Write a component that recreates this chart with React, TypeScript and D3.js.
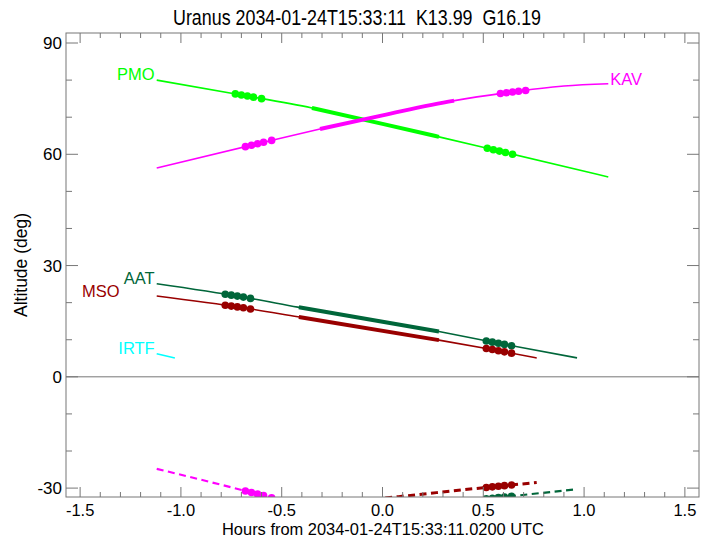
import React, { useEffect, useRef } from 'react';
import * as d3 from 'd3';

// chart text
const title = 'Uranus 2034-01-24T15:33:11  K13.99  G16.19';
const xTitle = 'Hours from 2034-01-24T15:33:11.0200 UTC';
const yTitle = 'Altitude (deg)';

// axis ticks
const xMajor = [-1.5, -1.0, -0.5, 0.0, 0.5, 1.0, 1.5];
const xMajorLabels = ['-1.5', '-1.0', '-0.5', '0.0', '0.5', '1.0', '1.5'];
const xMinor = [-1.4, -1.3, -1.2, -1.1, -0.9, -0.8, -0.7, -0.6, -0.4, -0.3, -0.2, -0.1,
  0.1, 0.2, 0.3, 0.4, 0.6, 0.7, 0.8, 0.9, 1.1, 1.2, 1.3, 1.4];
const yMajor = [-30, 0, 30, 60, 90];
const yMajorLabels = ['-30', '0', '30', '60', '90'];
const yMinor = [-20, -10, 10, 20, 40, 50, 70, 80];

// altitude tracks (hours from epoch, altitude in deg)
const pmoHours = [-1.12, -0.7, -0.35, 0, 0.28, 0.6, 1.12];
const pmoAlt = [80.0, 76.0, 72.5, 68.2, 64.7, 60.6, 53.9];
const pmoThick = [-0.35, 0.28];
const pmoDots = [-0.73, -0.70, -0.67, -0.64, -0.60, 0.52, 0.55, 0.58, 0.61, 0.645];

const kavHours = [-1.12, -0.6, -0.31, 0, 0.35, 0.6, 0.9, 1.12];
const kavAlt = [56.3, 63.1, 66.8, 70.5, 74.4, 76.5, 78.4, 79.0];
const kavThick = [-0.31, 0.355];
const kavDots = [-0.68, -0.65, -0.62, -0.59, -0.55, 0.585, 0.615, 0.645, 0.675, 0.71];

const aatHours = [-1.12, -0.7, -0.42, 0.28, 0.55, 0.965];
const aatAlt = [25.1, 21.6, 18.8, 12.2, 9.3, 5.1];
const aatThick = [-0.415, 0.28];
const aatDots = [-0.78, -0.75, -0.72, -0.69, -0.655, 0.515, 0.545, 0.575, 0.605, 0.64];

const msoHours = [-1.12, -0.7, -0.42, 0.28, 0.55, 0.765];
const msoAlt = [21.8, 18.7, 16.2, 9.9, 7.3, 5.1];
const msoThick = [-0.415, 0.28];
const msoDots = [-0.78, -0.75, -0.72, -0.69, -0.655, 0.515, 0.545, 0.575, 0.605, 0.64];

const irtfHours = [-1.12, -1.03];
const irtfAlt = [6.2, 5.1];

// below-horizon tracks (dashed)
const kavLowHours = [-1.12, -0.8, -0.55, -0.4];
const kavLowAlt = [-24.8, -29.1, -32.6, -34.6];
const kavLowDots = [-0.68, -0.65, -0.62, -0.59, -0.55];

const msoLowHours = [-0.1, 0.08, 0.5, 0.765];
const msoLowAlt = [-33.3, -32.3, -29.9, -28.5];
const msoLowDots = [0.515, 0.545, 0.575, 0.605, 0.64];

const aatLowHours = [0.4, 0.5, 0.965];
const aatLowAlt = [-33.6, -33.0, -30.3];
const aatLowDots = [0.515, 0.545, 0.575, 0.605, 0.64];

const sites = [
  { name: 'PMO', color: '#00ff00', hours: pmoHours, alt: pmoAlt, thick: pmoThick, dots: pmoDots, label: { at: 'start', dx: -2, dy: 0 } },
  { name: 'KAV', color: '#ff00ff', hours: kavHours, alt: kavAlt, thick: kavThick, dots: kavDots, label: { at: 'end', dx: 2, dy: 1 } },
  { name: 'AAT', color: '#00663a', hours: aatHours, alt: aatAlt, thick: aatThick, dots: aatDots, label: { at: 'start', dx: -2, dy: 0 } },
  { name: 'MSO', color: '#990000', hours: msoHours, alt: msoAlt, thick: msoThick, dots: msoDots, label: { at: 'start', dx: -37, dy: 1 } },
  { name: 'IRTF', color: '#00ffff', hours: irtfHours, alt: irtfAlt, thick: null, dots: [], label: { at: 'start', dx: -2, dy: 0 } },
];

const lowTracks = [
  { color: '#ff00ff', hours: kavLowHours, alt: kavLowAlt, dots: kavLowDots, width: 2.2 },
  { color: '#990000', hours: msoLowHours, alt: msoLowAlt, dots: msoLowDots, width: 3 },
  { color: '#00663a', hours: aatLowHours, alt: aatLowAlt, dots: aatLowDots, width: 2.2 },
];

const App = () => {
  const ref = useRef<SVGSVGElement>(null);
  const width = 712, height = 542;
  const margin = { top: 33, right: 13, bottom: 45, left: 66 };

  useEffect(() => {
    const svg = d3.select(ref.current);
    svg.selectAll('*').remove();

    const left = margin.left, right = width - margin.right;
    const top = margin.top, bottom = height - margin.bottom;

    const x = d3.scaleLinear().domain([-1.57, 1.57]).range([left, right]);
    const y = d3.scaleLinear().domain([-32.4, 92.7]).range([bottom, top]);
    const font = '"Liberation Sans", Arial, Helvetica, sans-serif';
    const axisColor = '#777';

    svg.append('defs').append('clipPath').attr('id', 'plot-clip')
      .append('rect')
      .attr('x', left).attr('y', top)
      .attr('width', right - left).attr('height', bottom - top);

    // zero line
    svg.append('line')
      .attr('x1', left).attr('x2', right)
      .attr('y1', y(0)).attr('y2', y(0))
      .attr('stroke', axisColor).attr('stroke-width', 1);

    const plot = svg.append('g').attr('clip-path', 'url(#plot-clip)');
    const line = d3.line<number[]>()
      .x(d => x(d[0]))
      .y(d => y(d[1]))
      .curve(d3.curveMonotoneX);

    sites.forEach(s => {
      const pts = s.hours.map((h, i) => [h, s.alt[i]]);
      const altAt = d3.scaleLinear().domain(s.hours).range(s.alt);

      plot.append('path')
        .attr('d', line(pts))
        .attr('fill', 'none')
        .attr('stroke', s.color)
        .attr('stroke-width', 1.6);

      if (s.thick) {
        const [t0, t1] = s.thick;
        const seg = [[t0, altAt(t0)], ...pts.filter(p => p[0] > t0 && p[0] < t1), [t1, altAt(t1)]];
        plot.append('path')
          .attr('d', line(seg))
          .attr('fill', 'none')
          .attr('stroke', s.color)
          .attr('stroke-width', 4);
      }

      plot.selectAll(null)
        .data(s.dots)
        .enter()
        .append('circle')
        .attr('cx', d => x(d))
        .attr('cy', d => y(altAt(d)))
        .attr('r', 3.8)
        .attr('fill', s.color);

      const endIdx = s.label.at === 'start' ? 0 : s.hours.length - 1;
      svg.append('text')
        .attr('x', x(s.hours[endIdx]) + s.label.dx)
        .attr('y', y(s.alt[endIdx]) + s.label.dy)
        .attr('text-anchor', s.label.at === 'start' ? 'end' : 'start')
        .attr('font-family', font)
        .attr('font-size', 16.5)
        .attr('fill', s.color)
        .text(s.name);
    });

    lowTracks.forEach(s => {
      const pts = s.hours.map((h, i) => [h, s.alt[i]]);
      const altAt = d3.scaleLinear().domain(s.hours).range(s.alt);
      plot.append('path')
        .attr('d', line(pts))
        .attr('fill', 'none')
        .attr('stroke', s.color)
        .attr('stroke-width', s.width)
        .attr('stroke-dasharray', '7,4.5');
      plot.selectAll(null)
        .data(s.dots)
        .enter()
        .append('circle')
        .attr('cx', d => x(d))
        .attr('cy', d => y(altAt(d)))
        .attr('r', 3.8)
        .attr('fill', s.color);
    });

    // frame
    svg.append('rect')
      .attr('x', left).attr('y', top)
      .attr('width', right - left).attr('height', bottom - top)
      .attr('fill', 'none')
      .attr('stroke', axisColor).attr('stroke-width', 1);

    const ticks = svg.append('g').attr('stroke', axisColor).attr('stroke-width', 1);
    const xTick = (vals: number[], len: number) => {
      vals.forEach(v => {
        ticks.append('line').attr('x1', x(v)).attr('x2', x(v)).attr('y1', bottom).attr('y2', bottom - len);
        ticks.append('line').attr('x1', x(v)).attr('x2', x(v)).attr('y1', top).attr('y2', top + len);
      });
    };
    const yTick = (vals: number[], len: number) => {
      vals.forEach(v => {
        ticks.append('line').attr('x1', left).attr('x2', left + len).attr('y1', y(v)).attr('y2', y(v));
        ticks.append('line').attr('x1', right).attr('x2', right - len).attr('y1', y(v)).attr('y2', y(v));
      });
    };
    xTick(xMajor, 10);
    xTick(xMinor, 5);
    yTick(yMajor, 12);
    yTick(yMinor, 6);

    svg.append('g').selectAll('text')
      .data(xMajor)
      .enter()
      .append('text')
      .attr('x', d => x(d))
      .attr('y', bottom + 19)
      .attr('text-anchor', 'middle')
      .attr('font-family', font)
      .attr('font-size', 16.5)
      .text((d, i) => xMajorLabels[i]);

    svg.append('g').selectAll('text')
      .data(yMajor)
      .enter()
      .append('text')
      .attr('x', left - 4)
      .attr('y', d => y(d) + 6)
      .attr('text-anchor', 'end')
      .attr('font-family', font)
      .attr('font-size', 17)
      .text((d, i) => yMajorLabels[i]);

    svg.append('text')
      .attr('x', 357)
      .attr('y', 25)
      .attr('text-anchor', 'middle')
      .attr('font-family', font)
      .attr('font-size', 22)
      .attr('textLength', 368)
      .attr('lengthAdjust', 'spacingAndGlyphs')
      .style('white-space', 'pre')
      .text(title);

    svg.append('text')
      .attr('x', (left + right) / 2 + 0.5)
      .attr('y', height - 7)
      .attr('text-anchor', 'middle')
      .attr('font-family', font)
      .attr('font-size', 17)
      .attr('textLength', 322)
      .attr('lengthAdjust', 'spacingAndGlyphs')
      .text(xTitle);

    svg.append('text')
      .attr('transform', `translate(27, ${(top + bottom) / 2}) rotate(-90)`)
      .attr('text-anchor', 'middle')
      .attr('font-family', font)
      .attr('font-size', 17.5)
      .text(yTitle);
  }, []);

  return (
    <svg
      ref={ref}
      width={width}
      height={height}
      style={{ position: 'absolute', left: 0, top: 0, background: '#fff' }}
    />
  );
};

export default App;
